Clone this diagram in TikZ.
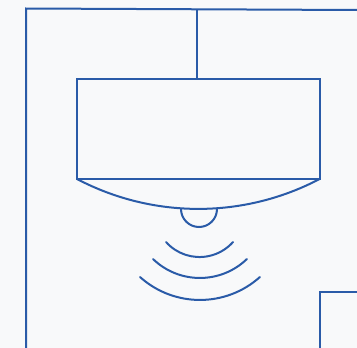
\documentclass[tikz,border=0pt]{standalone}
\begin{document}
\begin{tikzpicture}[x=1pt,y=-1pt,
  wire/.style={draw=linecol,line width=2pt},
  wave/.style={draw=linecol,line width=2pt,line cap=round}]
\definecolor{linecol}{RGB}{42,91,168}
\definecolor{bgcol}{RGB}{248,249,250}
% canvas
\fill[bgcol] (0,0) rectangle (357,348);
\useasboundingbox (0,0) rectangle (357,348);
% room outline
\draw[wire] (26,348) -- (26,8.5) -- (357,10);
\draw[wire] (197,9.3) -- (197,79);
% fixture housing
\draw[wire] (77,79) rectangle (320,179);
% dome under the housing (y axis points down, so 90 degrees is straight down)
\draw[wire] (77,179) arc[start angle=117.7,end angle=62.3,radius=261];
% sensor lens
\draw[wire] (181,209) arc[start angle=180,end angle=0,radius=18];
% signal waves
\draw[wave] (166,242) arc[start angle=138.3,end angle=41.7,radius=44.9];
\draw[wave] (153,259) arc[start angle=134,end angle=46,radius=67.6];
\draw[wave] (140,277) arc[start angle=131.9,end angle=48.1,radius=89.8];
% corner block at bottom right
\draw[wire] (320,348) -- (320,292) -- (357,292);
\end{tikzpicture}
\end{document}
